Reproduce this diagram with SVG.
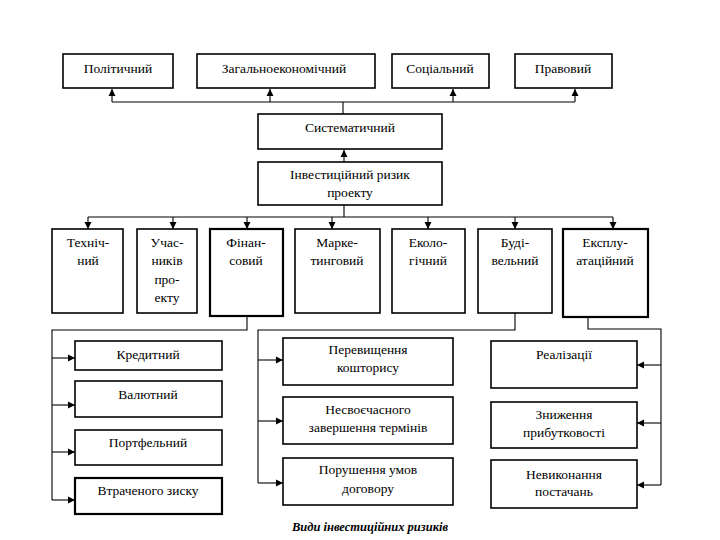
<svg xmlns="http://www.w3.org/2000/svg" width="720" height="540" viewBox="0 0 720 540">
<defs>
<style>
.b{fill:#fff;stroke:#000;stroke-width:1.6}
.bt{fill:#fff;stroke:#000;stroke-width:2.2}
.c{fill:none;stroke:#000;stroke-width:1.1}
.a{fill:none;stroke:#000;stroke-width:1.1;marker-end:url(#ah)}
</style>
<marker id="ah" markerUnits="userSpaceOnUse" markerWidth="8" markerHeight="8" refX="7" refY="4" orient="auto">
<path d="M0,0.5 L7,4 L0,7.5 z" fill="#000"/>
</marker>
</defs>
<rect width="720" height="540" fill="#fff"/>
<g id="connectors">
<path class="c" d="M112,102 H575 M343,102 V114"/>
<path class="a" d="M112,102 V89"/>
<path class="a" d="M270,102 V89"/>
<path class="a" d="M453,102 V89"/>
<path class="a" d="M575,102 V89"/>
<path class="a" d="M344,162 V150"/>
<path class="c" d="M344,205 V217 M88,217 H613"/>
<path class="a" d="M88,217 V229"/>
<path class="a" d="M173,217 V229"/>
<path class="a" d="M247,217 V229"/>
<path class="a" d="M332,217 V229"/>
<path class="a" d="M428,217 V229"/>
<path class="a" d="M515,217 V229"/>
<path class="a" d="M613,217 V229"/>
<path class="c" d="M247,316 V330 H52 V500"/>
<path class="a" d="M52,358 H75"/>
<path class="a" d="M52,405 H75"/>
<path class="a" d="M52,452 H75"/>
<path class="a" d="M52,500 H75"/>
<path class="c" d="M515,313 V330 H258 V483"/>
<path class="a" d="M258,360 H283"/>
<path class="a" d="M258,421 H283"/>
<path class="a" d="M258,483 H283"/>
<path class="c" d="M588,317 V329 H661 V485"/>
<path class="a" d="M661,365 H637"/>
<path class="a" d="M661,423 H637"/>
<path class="a" d="M661,485 H637"/>
</g>
<g id="n-politychnyi"><rect class="b" x="63" y="54" width="110" height="34"/><text font-family="Liberation Serif" font-size="13.5" text-anchor="middle" x="118" y="73">Політичний</text></g>
<g id="n-zagalnoekon"><rect class="b" x="197" y="54" width="178" height="34"/><text font-family="Liberation Serif" font-size="13.5" text-anchor="middle" x="284" y="73">Загальноекономічний</text></g>
<g id="n-sotsialnyi"><rect class="b" x="392" y="54" width="97" height="34"/><text font-family="Liberation Serif" font-size="13.5" text-anchor="middle" x="440" y="73">Соціальний</text></g>
<g id="n-pravovyi"><rect class="b" x="515" y="54" width="97" height="34"/><text font-family="Liberation Serif" font-size="13.5" text-anchor="middle" x="563" y="73">Правовий</text></g>
<g id="n-systematychnyi"><rect class="b" x="258" y="114" width="184" height="35"/><text font-family="Liberation Serif" font-size="13.5" text-anchor="middle" x="350" y="132">Систематичний</text></g>
<g id="n-investytsiinyi"><rect class="b" x="258" y="162" width="184" height="43"/><text font-family="Liberation Serif" font-size="13.5" text-anchor="middle" x="350" y="179">Інвестиційний ризик</text><text font-family="Liberation Serif" font-size="13.5" text-anchor="middle" x="350" y="197">проекту</text></g>
<g id="n-tekhnichnyi"><rect class="b" x="52" y="229" width="71" height="84"/><text font-family="Liberation Serif" font-size="13.5" text-anchor="middle" x="88" y="247">Техніч-</text><text font-family="Liberation Serif" font-size="13.5" text-anchor="middle" x="88" y="265">ний</text></g>
<g id="n-uchasnykiv"><rect class="b" x="137" y="229" width="60" height="84"/><text font-family="Liberation Serif" font-size="13.5" text-anchor="middle" x="167" y="247">Учас-</text><text font-family="Liberation Serif" font-size="13.5" text-anchor="middle" x="167" y="265">ників</text><text font-family="Liberation Serif" font-size="13.5" text-anchor="middle" x="167" y="284">про-</text><text font-family="Liberation Serif" font-size="13.5" text-anchor="middle" x="167" y="302">екту</text></g>
<g id="n-finansovyi"><rect class="bt" x="210" y="229" width="73" height="87"/><text font-family="Liberation Serif" font-size="13.5" text-anchor="middle" x="246" y="247">Фінан-</text><text font-family="Liberation Serif" font-size="13.5" text-anchor="middle" x="246" y="265">совий</text></g>
<g id="n-marketynhovyi"><rect class="b" x="295" y="229" width="85" height="84"/><text font-family="Liberation Serif" font-size="13.5" text-anchor="middle" x="337" y="247">Марке-</text><text font-family="Liberation Serif" font-size="13.5" text-anchor="middle" x="337" y="265">тинговий</text></g>
<g id="n-ekolohichnyi"><rect class="b" x="392" y="229" width="73" height="84"/><text font-family="Liberation Serif" font-size="13.5" text-anchor="middle" x="428" y="247">Еколо-</text><text font-family="Liberation Serif" font-size="13.5" text-anchor="middle" x="428" y="265">гічний</text></g>
<g id="n-budivelnyi"><rect class="b" x="478" y="229" width="74" height="84"/><text font-family="Liberation Serif" font-size="13.5" text-anchor="middle" x="515" y="247">Буді-</text><text font-family="Liberation Serif" font-size="13.5" text-anchor="middle" x="515" y="265">вельний</text></g>
<g id="n-ekspluatatsiinyi"><rect class="bt" x="563" y="229" width="85" height="88"/><text font-family="Liberation Serif" font-size="13.5" text-anchor="middle" x="605" y="247">Експлу-</text><text font-family="Liberation Serif" font-size="13.5" text-anchor="middle" x="605" y="265">атаційний</text></g>
<g id="n-kredytnyi"><rect class="b" x="75" y="341" width="147" height="29"/><text font-family="Liberation Serif" font-size="13.5" text-anchor="middle" x="148" y="359">Кредитний</text></g>
<g id="n-valiutnyi"><rect class="b" x="75" y="381" width="147" height="36"/><text font-family="Liberation Serif" font-size="13.5" text-anchor="middle" x="148" y="399">Валютний</text></g>
<g id="n-portfelnyi"><rect class="b" x="75" y="430" width="147" height="35"/><text font-family="Liberation Serif" font-size="13.5" text-anchor="middle" x="148" y="447">Портфельний</text></g>
<g id="n-vtrachenoho"><rect class="bt" x="75" y="478" width="147" height="36"/><text font-family="Liberation Serif" font-size="13.5" text-anchor="middle" x="148" y="495">Втраченого зиску</text></g>
<g id="n-perevyshchennia"><rect class="b" x="283" y="338" width="170" height="47"/><text font-family="Liberation Serif" font-size="13.5" text-anchor="middle" x="368" y="354">Перевищення</text><text font-family="Liberation Serif" font-size="13.5" text-anchor="middle" x="368" y="372">кошторису</text></g>
<g id="n-nesvoiechasnoho"><rect class="b" x="283" y="397" width="170" height="47"/><text font-family="Liberation Serif" font-size="13.5" text-anchor="middle" x="368" y="414">Несвоєчасного</text><text font-family="Liberation Serif" font-size="13.5" text-anchor="middle" x="368" y="432">завершення термінів</text></g>
<g id="n-porushennia"><rect class="b" x="283" y="458" width="170" height="47"/><text font-family="Liberation Serif" font-size="13.5" text-anchor="middle" x="368" y="474">Порушення умов</text><text font-family="Liberation Serif" font-size="13.5" text-anchor="middle" x="368" y="493">договору</text></g>
<g id="n-realizatsii"><rect class="b" x="491" y="341" width="146" height="47"/><text font-family="Liberation Serif" font-size="13.5" text-anchor="middle" x="564" y="359">Реалізації</text></g>
<g id="n-znyzhennia"><rect class="b" x="491" y="402" width="146" height="46"/><text font-family="Liberation Serif" font-size="13.5" text-anchor="middle" x="564" y="419">Зниження</text><text font-family="Liberation Serif" font-size="13.5" text-anchor="middle" x="564" y="437">прибутковості</text></g>
<g id="n-nevykonannia"><rect class="b" x="491" y="460" width="146" height="48"/><text font-family="Liberation Serif" font-size="13.5" text-anchor="middle" x="564" y="479">Невиконання</text><text font-family="Liberation Serif" font-size="13.5" text-anchor="middle" x="564" y="496">постачань</text></g>
<text font-family="Liberation Serif" font-size="12.5" font-style="italic" font-weight="bold" text-anchor="middle" x="370" y="531">Види інвестиційних ризиків</text>
</svg>
